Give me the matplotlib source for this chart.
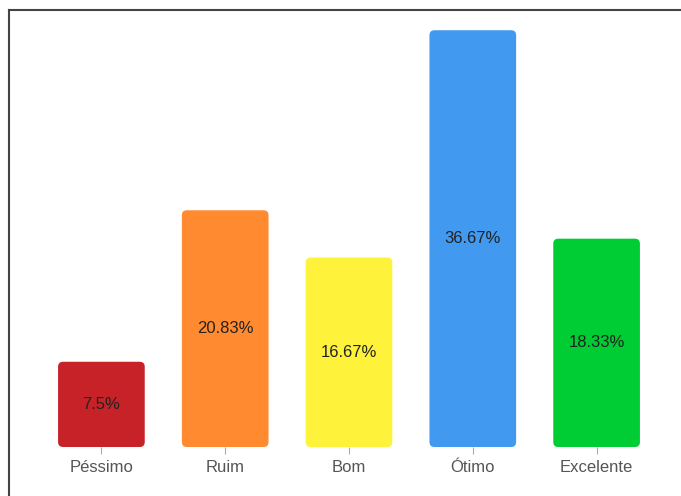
import matplotlib
matplotlib.use("Agg")
import matplotlib.pyplot as plt
from matplotlib.patches import FancyBboxPatch
from matplotlib.lines import Line2D

categories = ["Péssimo", "Ruim", "Bom", "Ótimo", "Excelente"]
values = [7.5, 20.83, 16.67, 36.67, 18.33]
labels = ["7.5%", "20.83%", "16.67%", "36.67%", "18.33%"]
colors = ["#C62228", "#FF8A30", "#FFF23A", "#4299F0", "#00CC33"]

plt.rcParams['font.family'] = ['Liberation Sans', 'DejaVu Sans']

ymax = 38.45

fig = plt.figure(figsize=(6.81, 4.96), dpi=100)
ax = fig.add_axes([39.5 / 681, 49 / 496, 619 / 681, 437 / 496])
ax.set_xlim(-0.5, len(categories) - 0.5)
ax.set_ylim(0, ymax)

# px per unit, for round corners
x_px = 619 / len(categories)
y_px = 437 / ymax
aspect = x_px / y_px
bar_w = 0.70
r = 5 / x_px

for i, (v, c, lab) in enumerate(zip(values, colors, labels)):
    box = FancyBboxPatch((i - bar_w / 2, 0), bar_w, v,
                         boxstyle="round,pad=0,rounding_size=%f" % r,
                         mutation_aspect=aspect, facecolor=c, edgecolor="none")
    ax.add_patch(box)
    ax.text(i, v / 2, lab, ha="center", va="center", fontsize=12, color="#222222")

ax.set_xticks(range(len(categories)))
ax.set_xticklabels(categories, fontsize=12, color="#555555")
ax.tick_params(axis="x", length=5, color="#aaaaaa", pad=4)
ax.set_yticks([])
for s in ax.spines.values():
    s.set_visible(False)

# frame lines at left and top of the image
fig.add_artist(Line2D([9 / 681, 9 / 681], [0, 1 - 9.5 / 496], transform=fig.transFigure,
                      color="#444444", linewidth=1.5))
fig.add_artist(Line2D([9 / 681, 1], [1 - 9.5 / 496, 1 - 9.5 / 496], transform=fig.transFigure,
                      color="#444444", linewidth=1.5))

fig.savefig("out.png", dpi=100)
